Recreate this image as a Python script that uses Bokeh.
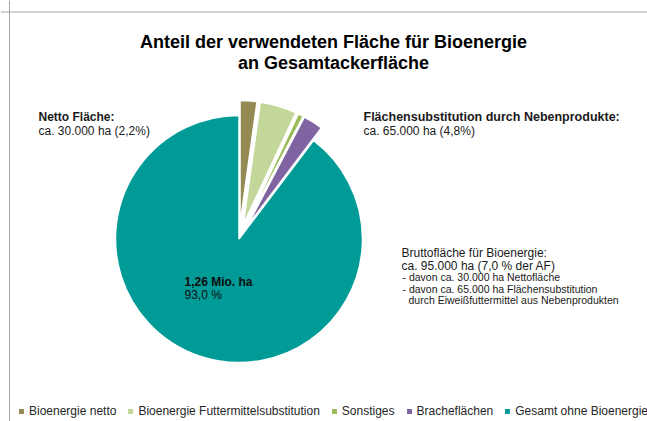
import math
from bokeh.plotting import figure
from bokeh.models import Range1d, Label, Legend, LegendItem, Span
from bokeh.embed import file_html
from bokeh.resources import INLINE

# ---- data ----
categories = ["Bioenergie netto", "Bioenergie Futtermittelsubstitution", "Sonstiges",
              "Bracheflächen", "Gesamt ohne Bioenergie"]
shares = [2.2, 4.8, 0.7, 2.6, 89.7]
colors = ["#948A54", "#C4D79B", "#9BBB59", "#8064A2", "#009A97"]
explode = [15, 15, 15, 15, 0]

W, H = 647, 421
FONT = "Liberation Sans"

def py(y_page):
    return H - y_page

p = figure(width=W, height=H, output_backend="svg", toolbar_location=None,
           x_range=Range1d(0, W), y_range=Range1d(0, H),
           min_border=0, outline_line_color=None)
p.axis.visible = False
p.grid.visible = False
p.background_fill_color = "white"
p.border_fill_color = "white"

# frame lines (left and top)
p.add_layout(Span(location=9, dimension="height", line_color="#A6A6A6", line_width=1))
p.add_layout(Span(location=py(11.5), dimension="width", line_color="#A6A6A6", line_width=1))

# pie
cx, cy, r = 238.5, py(238.5), 123.5
total = sum(shares)
starts, ends, xs, ys = [], [], [], []
acc = 0.0
for s, e in zip(shares, explode):
    c0 = acc / total
    c1 = (acc + s) / total
    acc += s
    a0 = math.pi / 2 - 2 * math.pi * c1
    a1 = math.pi / 2 - 2 * math.pi * c0
    m = (a0 + a1) / 2
    starts.append(a0)
    ends.append(a1)
    xs.append(cx + e * math.cos(m))
    ys.append(cy + e * math.sin(m))

rends = []
for i in range(len(categories)):
    rr = p.wedge(x=xs[i], y=ys[i], radius=r, start_angle=starts[i], end_angle=ends[i],
                 fill_color=colors[i], line_color="white", line_width=1.5)
    rends.append(rr)

legend = Legend(items=[LegendItem(label=categories[i], renderers=[rends[i]]) for i in range(len(categories))],
                orientation="horizontal", location=(17, 3),
                glyph_width=8, glyph_height=8, label_standoff=4, spacing=10,
                padding=0, margin=0, border_line_color=None, background_fill_alpha=0,
                label_text_font=FONT, label_text_font_size="12px", label_text_color="#262626",
                label_height=12)
p.add_layout(legend)

def lab(x, y, text, size="12px", bold=False, align="left", color="#1a1a1a"):
    p.add_layout(Label(x=x, y=py(y), text=text, text_font=FONT, text_font_size=size,
                       text_font_style="bold" if bold else "normal", text_align=align,
                       text_baseline="middle", text_color=color))

lab(333, 41, "Anteil der verwendeten Fläche für Bioenergie", "18px", True, "center", "#000000")
lab(333, 62, "an Gesamtackerfläche", "18px", True, "center", "#000000")

lab(38, 116, "Netto Fläche:", bold=True)
lab(38, 130, "ca. 30.000 ha (2,2%)")

lab(363, 116, "Flächensubstitution durch Nebenprodukte:", "12.5px", bold=True)
lab(363, 130, "ca. 65.000 ha (4,8%)")

lab(401, 252, "Bruttofläche für Bioenergie:")
lab(401, 265, "ca. 95.000 ha (7,0 % der AF)")
lab(402, 276.5, "- davon ca. 30.000 ha  Nettofläche", "10.5px")
lab(402, 288, "- davon ca. 65.000 ha  Flächensubstitution", "10.5px")
lab(408, 299.5, "durch  Eiweißfuttermittel  aus Nebenprodukten", "10.5px")

lab(184, 281, "1,26 Mio. ha", bold=True, color="#0d0d0d")
lab(184, 294, "93,0 %", color="#0d0d0d")

open("out.html", "w").write(file_html(p, INLINE))
